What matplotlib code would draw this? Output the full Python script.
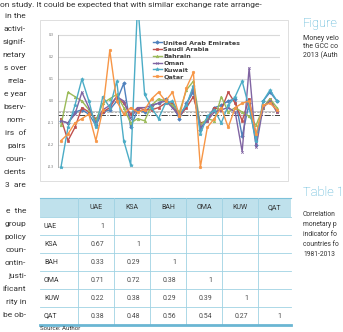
import numpy as np
import matplotlib.pyplot as plt
from matplotlib.patches import Rectangle

W, H = 343, 332  # canvas size in pixels

# ---- chart data (money velocity growth, 1982-2013) ----
years = np.arange(1982, 2014)
uae = [-0.09, -0.10, -0.05, -0.04, -0.06, -0.11, -0.05, -0.04, 0.00, 0.08,
       -0.12, -0.04, -0.05, -0.02, -0.01, 0.01, -0.02, -0.08, -0.01, 0.04,
       -0.13, -0.08, -0.03, -0.02, 0.00, 0.01, -0.16, -0.01, -0.20, 0.00,
       0.04, 0.00]
saudi = [-0.08, -0.18, -0.12, -0.03, -0.05, -0.08, -0.05, -0.03, 0.02, -0.01,
         -0.06, -0.03, -0.04, -0.04, -0.03, -0.01, -0.01, -0.07, -0.03, 0.02,
         -0.10, -0.09, -0.03, -0.04, 0.04, -0.01, -0.09, 0.01, -0.16, -0.03,
         0.01, -0.05]
bahrain = [-0.11, 0.04, 0.02, 0.00, -0.04, -0.09, -0.01, 0.01, 0.03, -0.03,
           -0.10, -0.08, -0.09, -0.02, 0.01, 0.00, -0.02, -0.05, 0.05, 0.09,
           -0.11, -0.08, -0.09, 0.02, -0.05, -0.03, -0.05, -0.07, -0.11, -0.03,
           0.01, -0.03]
oman = [-0.09, -0.10, -0.06, 0.04, -0.03, -0.10, -0.04, -0.02, 0.02, 0.00,
        -0.08, -0.03, -0.03, -0.02, -0.01, 0.00, -0.03, -0.07, -0.02, 0.06,
        -0.12, -0.09, -0.05, -0.04, -0.03, -0.05, -0.23, 0.15, -0.21, -0.03,
        0.00, -0.05]
kuwait = [-0.30, -0.12, -0.02, 0.10, 0.00, -0.12, 0.02, -0.03, 0.09, -0.18,
          -0.29, 0.45, 0.03, -0.03, -0.08, -0.01, 0.00, -0.06, -0.02, 0.07,
          -0.15, -0.07, -0.04, -0.10, -0.02, 0.02, 0.09, -0.03, -0.18, 0.00,
          0.05, 0.00]
qatar = [-0.18, -0.15, -0.10, -0.08, -0.06, -0.18, -0.04, 0.23, 0.00, -0.06,
         -0.03, -0.05, -0.04, 0.01, 0.04, 0.00, 0.04, -0.07, 0.06, 0.13,
         -0.30, -0.12, -0.08, -0.03, -0.12, -0.03, -0.01, 0.00, -0.15, -0.02,
         -0.01, -0.04]
series_names = ["United Arab Emirates", "Saudi Arabia", "Bahrain", "Oman", "Kuwait", "Qatar"]
y_ticks = [0.3, 0.2, 0.1, 0.0, -0.1, -0.2, -0.3]
ref_levels = [-0.045, -0.052, -0.064]   # the grey average lines

# ---- table data ----
codes = ["UAE", "KSA", "BAH", "OMA", "KUW", "QAT"]
corr = [[1],
        [0.67, 1],
        [0.33, 0.29, 1],
        [0.71, 0.72, 0.38, 1],
        [0.22, 0.38, 0.29, 0.39, 1],
        [0.38, 0.48, 0.56, 0.54, 0.27, 1]]

# ---- page text (cropped page, so fragments) ----
top_line = "on study. It could be expected that with similar exchange rate arrange-"
left_lines = ["in the", "activi-", "signif-", "netary", "s over", "rrela-", "e year",
              "bserv-", "nom-", "irs  of", "pairs", "coun-", "cients", "3  are", "",
              "e  the", "group", "policy", "coun-", "ontin-", "justi-", "ificant",
              "rity in", "be ob-"]
fig_caption = ["Money velo", "the GCC co", "2013 (Auth"]
tab_caption = ["Correlation", "monetary p", "indicator fo", "countries fo", "1981-2013"]

colors = ['#4F81BD', '#C0504D', '#9BBB59', '#8064A2', '#4BACC6', '#F79646']
markers = ['D', 's', '^', 'x', '*', 'o']
txt = '#333333'


def fx(x):
    return x / W


def fy(y):
    return 1 - y / H


fig = plt.figure(figsize=(W / 100, H / 100), dpi=100)
fig.patch.set_facecolor('white')

# page layer in pixel coordinates
pg = fig.add_axes([0, 0, 1, 1])
pg.set_xlim(0, W)
pg.set_ylim(H, 0)
pg.axis('off')

body = dict(fontsize=6.0, color=txt, family='Roboto')
pg.text(0, 5, top_line, ha='left', va='center', **body)
for k, s in enumerate(left_lines):
    if s:
        pg.text(26, 16 + 13 * k, s, ha='right', va='center', **body)

# right-hand captions
pg.text(303, 24, "Figure", ha='left', va='center', fontsize=9.3, color='#45ABD2', family='Roboto', weight='light')
for k, s in enumerate(fig_caption):
    pg.text(303, 39 + 8 * k, s, ha='left', va='center', fontsize=5.0, color=txt, family='Roboto')
pg.text(303, 192, "Table 1", ha='left', va='center', fontsize=9.3, color='#45ABD2', family='Roboto', weight='light')
for k, s in enumerate(tab_caption):
    pg.text(303, 215 + 10 * k, s, ha='left', va='center', fontsize=4.9, color=txt, family='Roboto')

# chart frame
pg.add_patch(Rectangle((40, 20), 248, 161, fill=False, edgecolor='#d9d9d9', lw=0.6))

# ---- table ----
col_edges = [40, 78, 114, 150, 186, 222, 258, 291]
head_top, head_bot, row_h = 198, 217, 18
pg.add_patch(Rectangle((col_edges[0], head_top), col_edges[-1] - col_edges[0], head_bot - head_top,
                       facecolor='#BFE1EC', edgecolor='none'))
pg.plot([col_edges[0], col_edges[-1]], [head_top, head_top], color='#7EC2DA', lw=0.8)
for c in range(len(codes)):
    pg.text((col_edges[c + 1] + col_edges[c + 2]) / 2, (head_top + head_bot) / 2, codes[c],
            ha='center', va='center', fontsize=5.0, color=txt, family='Roboto')
n_rows = len(codes)
table_bot = head_bot + n_rows * row_h
for r in range(n_rows):
    yy = head_bot + r * row_h
    pg.plot([col_edges[0], col_edges[-1]], [yy, yy], color='#9FD2E3', lw=0.6)
for e in col_edges[1:-1]:
    pg.plot([e, e], [head_top, table_bot], color='#9FD2E3', lw=0.6)
pg.plot([col_edges[0], col_edges[-1]], [table_bot, table_bot], color='#6AB6D3', lw=2.0)
for r, row in enumerate(corr):
    yc = head_bot + (r + 0.5) * row_h
    pg.text(col_edges[0] + 4, yc, codes[r], ha='left', va='center', fontsize=5.0, color=txt, family='Roboto')
    for c, v in enumerate(row):
        lab = "1" if v == 1 else f"{v:.2f}"
        pg.text(col_edges[c + 2] - 10, yc, lab, ha='right', va='center', fontsize=5.0, color='#4a4a4a',
                family='Roboto')
pg.text(40, 331.5, "Source: Author", ha='left', va='bottom', fontsize=4.4, color=txt, family='Roboto')

# ---- line chart ----
x_first, x_last, y_top, y_bot = 61, 277, 20, 173
step = (x_last - x_first) / (len(years) - 1)
ax = fig.add_axes([fx(58), fy(y_bot), (280 - 58) / W, (y_bot - y_top) / H])
ax.patch.set_alpha(0)
idx = np.arange(len(years))
ax.set_xlim(-3 / step, len(years) - 1 + 3 / step)
ax.set_ylim(0.3 - (y_bot - 35) / 220, 0.3 + (35 - y_top) / 220)
for v in y_ticks:
    ax.axhline(v, color='#d9d9d9', lw=0.8, zorder=0)
ax.axhline(ref_levels[0], color='#bfbfbf', lw=0.6, zorder=1)
ax.axhline(ref_levels[1], color='#a6a6a6', lw=0.6, ls='--', dashes=(3, 1.5), zorder=1)
ax.axhline(ref_levels[2], color='#404040', lw=0.7, ls='-.', zorder=1)
for sp in ['top', 'right', 'bottom']:
    ax.spines[sp].set_visible(False)
ax.spines['left'].set_bounds(-0.3, 0.3)
ax.spines['left'].set_color('#a6a6a6')
ax.spines['left'].set_linewidth(0.6)
ax.set_xticks([])
ax.set_yticks(y_ticks)
ax.set_yticklabels([f"{v:.1f}" for v in y_ticks], fontsize=2.2, color='#595959')
ax.tick_params(axis='y', length=0, pad=3)

all_series = [uae, saudi, bahrain, oman, kuwait, qatar]
handles = []
for vals, col, mk, name in zip(all_series, colors, markers, series_names):
    ms = 1.8 if mk != '*' else 2.6
    ln, = ax.plot(idx, vals, color=col, lw=1.0, marker=mk, markersize=ms,
                  markeredgewidth=0.5, label=name)
    handles.append(ln)

leg = fig.legend(handles=handles, loc='upper left', bbox_to_anchor=(fx(150), fy(37)),
                 frameon=False, handlelength=1.3, handletextpad=0.3, labelspacing=0.2,
                 borderpad=0, prop={'size': 4.6, 'weight': 'bold'}, labelcolor='#404040')

fig.savefig('out.png', dpi=100)
